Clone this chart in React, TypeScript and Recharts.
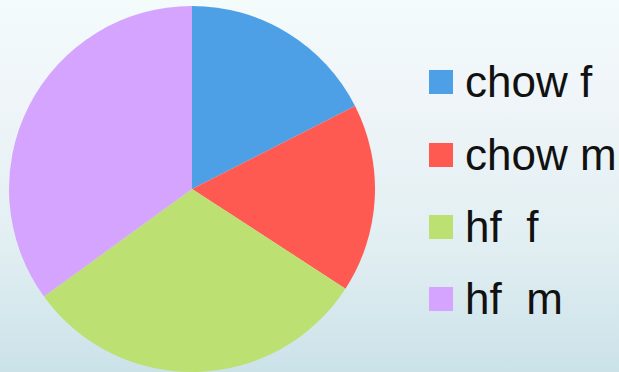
import { PieChart, Pie, Cell, Legend } from "recharts";

const groups = ["chow f", "chow m", "hf  f", "hf  m"];
const counts = [21, 20, 37, 42];
const colors = ["#4DA0E6", "#FF5A52", "#BDE072", "#D4A4FE"];

const data = groups.map((name, i) => ({ name, value: counts[i] }));

const renderLegend = () => (
  <div style={{ fontFamily: "'Liberation Sans', Arial, sans-serif" }}>
    {groups.map((g, i) => (
      <div
        key={g}
        style={{ display: "flex", alignItems: "center", height: 72.4 }}
      >
        <div
          style={{ width: 24, height: 24, background: colors[i], marginRight: 12 }}
        />
        <span
          style={{ fontSize: 44, lineHeight: "44px", color: "#111", whiteSpace: "pre" }}
        >
          {g}
        </span>
      </div>
    ))}
  </div>
);

export default function App() {
  return (
    <div
      style={{
        position: "fixed",
        left: 0,
        top: 0,
        width: 619,
        height: 372,
        background: "linear-gradient(to bottom, #F4FBFB 0%, #EEF4F8 30%, #E2EFF2 65%, #CBE2E9 100%)",
      }}
    >
      <PieChart width={619} height={372} margin={{ top: 0, right: 0, bottom: 0, left: 0 }}>
        <Pie
          data={data}
          dataKey="value"
          nameKey="name"
          cx={192}
          cy={189}
          outerRadius={183}
          startAngle={90}
          endAngle={-270}
          stroke="none"
          isAnimationActive={false}
        >
          {data.map((d, i) => (
            <Cell key={d.name} fill={colors[i]} />
          ))}
        </Pie>
        <Legend
          content={renderLegend}
          wrapperStyle={{ left: 429, top: 46, width: 190, bottom: "auto" }}
        />
      </PieChart>
    </div>
  );
}
